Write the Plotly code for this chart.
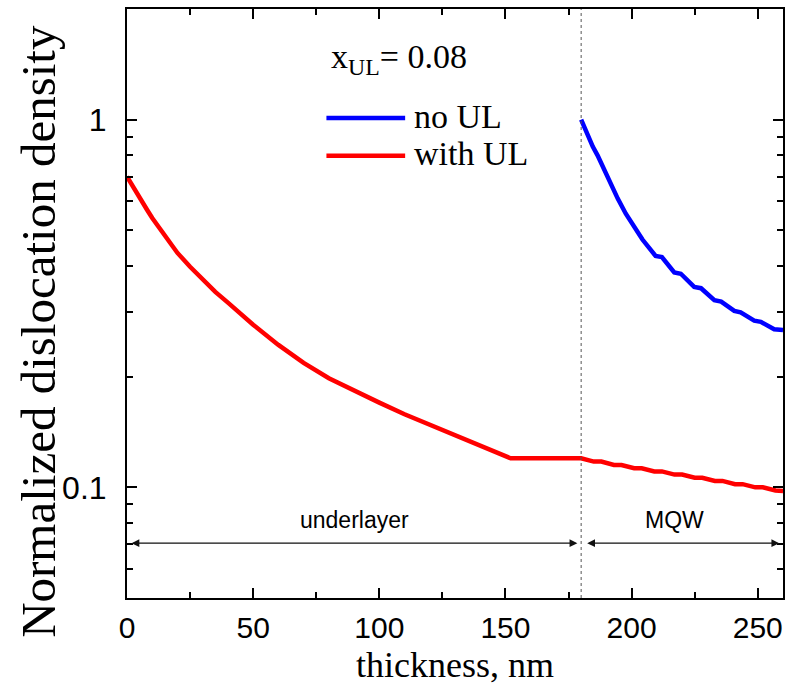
import math
import plotly.graph_objects as go

# ---------------- data ----------------
red_x = [0, 2, 4, 6, 8, 10, 12.5, 15, 17.5, 20, 25, 30, 35, 40, 45, 50, 60, 70, 80, 90, 100,
         110, 120, 130, 140, 152, 180,
         185, 188, 193, 196, 201, 204, 209, 212, 217, 220, 225, 228, 233, 236, 241, 244,
         249, 252, 257, 260]
red_y = [0.70, 0.662, 0.628, 0.597, 0.568, 0.540, 0.510, 0.482, 0.457, 0.434, 0.398, 0.366,
         0.340, 0.318, 0.296, 0.277, 0.244, 0.218, 0.198, 0.183, 0.170,
         0.158, 0.148, 0.139, 0.130, 0.120, 0.120,
         0.1175, 0.1175, 0.1150, 0.1150, 0.1127, 0.1127, 0.1105, 0.1105, 0.1083, 0.1083,
         0.1062, 0.1062, 0.1041, 0.1041, 0.1020, 0.1020, 0.1000, 0.1000, 0.0980, 0.0978]

blue_x = [180, 182, 184.6, 186.5, 188, 191, 194.5, 197.7, 201, 204.3, 207.5, 209.5, 212,
          216.9, 219.5, 224.8, 227.5, 232.8, 235.5, 240.7, 243.2, 248.6, 251.2, 256.5, 260]
blue_y = [1.0, 0.925, 0.845, 0.80, 0.76, 0.68, 0.61, 0.555, 0.51, 0.472, 0.443, 0.426, 0.423,
          0.384, 0.381, 0.351, 0.348, 0.323, 0.320, 0.302, 0.299, 0.284, 0.282, 0.269, 0.268]

x_ticks = [0, 50, 100, 150, 200, 250]
y_tickvals = [0.1, 1]
y_ticktext = ["0.1", "1"]
y_minor = [0.05, 0.06, 0.07, 0.08, 0.09, 0.2, 0.3, 0.4, 0.5, 0.6, 0.7, 0.8, 0.9, 2]

interface_x = 180
ul_arrow = (1.2, 178.5, 0.0705)     # start, end, level
mqw_arrow = (181.8, 258.5, 0.0705)
label_level = 0.0815

SERIF = "Liberation Serif, Times New Roman, serif"
SANS = "Liberation Sans, Arial, sans-serif"

fig = go.Figure()
fig.add_trace(go.Scatter(x=red_x, y=red_y, mode="lines", name="with UL",
                         line=dict(color="#ff0000", width=4.5), showlegend=False))
fig.add_trace(go.Scatter(x=blue_x, y=blue_y, mode="lines", name="no UL",
                         line=dict(color="#0000ff", width=4.5), showlegend=False))

# interface dashed line
fig.add_shape(type="line", xref="x", yref="paper", x0=interface_x, x1=interface_x, y0=0, y1=1,
              line=dict(color="#555555", width=1, dash="3px,3px"))

# double arrows (annotation y on log axis is given in log10 units)
for (a, b, lv) in [ul_arrow, mqw_arrow]:
    fig.add_annotation(x=b, y=math.log10(lv), ax=a, ay=math.log10(lv),
                       xref="x", yref="y", axref="x", ayref="y",
                       showarrow=True, arrowhead=2, arrowside="end+start", arrowsize=1.3,
                       arrowwidth=1.2, arrowcolor="#111111", text="")

fig.add_annotation(x=90, y=math.log10(label_level), xref="x", yref="y", text="underlayer",
                   showarrow=False, font=dict(family=SANS, size=23, color="black"))
fig.add_annotation(x=217, y=math.log10(label_level), xref="x", yref="y", text="MQW",
                   showarrow=False, font=dict(family=SANS, size=23, color="black"))

# legend (manual)
fig.add_annotation(x=0.3085, y=0.915, xref="paper", yref="paper", xanchor="left", yanchor="middle",
                   text="x<sub>UL</sub>= 0.08", showarrow=False,
                   font=dict(family=SERIF, size=34, color="black"))
fig.add_shape(type="line", xref="paper", yref="paper", x0=0.304, x1=0.424, y0=0.815, y1=0.815,
              line=dict(color="#0000ff", width=4.5))
fig.add_shape(type="line", xref="paper", yref="paper", x0=0.304, x1=0.424, y0=0.751, y1=0.751,
              line=dict(color="#ff0000", width=4.5))
fig.add_annotation(x=0.435, y=0.818, xref="paper", yref="paper", xanchor="left", yanchor="middle",
                   text="no UL", showarrow=False, font=dict(family=SERIF, size=34, color="black"))
fig.add_annotation(x=0.435, y=0.754, xref="paper", yref="paper", xanchor="left", yanchor="middle",
                   text="with UL", showarrow=False, font=dict(family=SERIF, size=34, color="black"))

# axis titles as annotations (to match their positions)
fig.add_annotation(x=-0.134, y=0.452, xref="paper", yref="paper", xanchor="center", yanchor="middle",
                   text="Normalized dislocation density", textangle=-90, showarrow=False,
                   font=dict(family=SERIF, size=49, color="black"))
fig.add_annotation(x=0.5, y=-0.113, xref="paper", yref="paper", xanchor="center", yanchor="middle",
                   text="thickness, nm", showarrow=False,
                   font=dict(family=SERIF, size=36, color="black"))

fig.update_layout(
    width=792, height=685,
    margin=dict(l=127, r=7, t=8, b=87),
    paper_bgcolor="white", plot_bgcolor="white",
    showlegend=False,
)
fig.update_xaxes(
    range=[0, 260], tickvals=x_ticks, ticks="inside", ticklen=10, tickwidth=2, tickcolor="black",
    showline=True, linecolor="black", linewidth=2, mirror="ticks", showgrid=False, zeroline=False,
    minor=dict(dtick=25, tick0=0, ticks="inside", ticklen=6, tickwidth=2, tickcolor="black", showgrid=False),
    tickfont=dict(family=SANS, size=30, color="black"), ticklabelstandoff=2,
)
fig.update_yaxes(
    type="log", range=[-1.30103, 0.30103], tickvals=y_tickvals, ticktext=y_ticktext,
    ticks="inside", ticklen=10, tickwidth=2, tickcolor="black",
    showline=True, linecolor="black", linewidth=2, mirror="ticks", showgrid=False, zeroline=False,
    minor=dict(tickvals=y_minor, ticks="inside", ticklen=6, tickwidth=2, tickcolor="black", showgrid=False),
    tickfont=dict(family=SANS, size=32, color="black"), ticklabelstandoff=12,
)

fig.write_html("out.html")
